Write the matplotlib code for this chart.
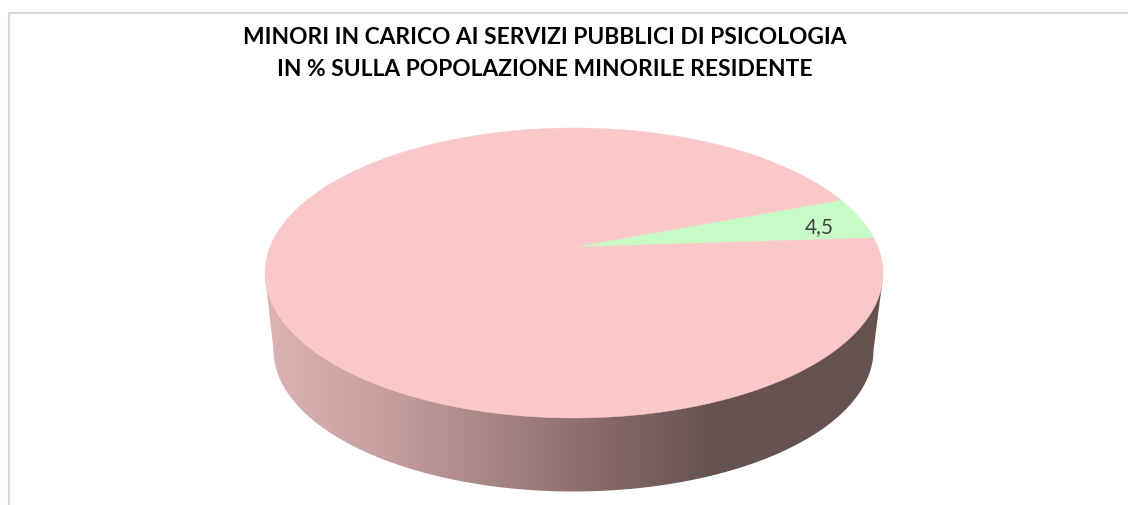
import matplotlib
matplotlib.use("Agg")
import matplotlib.pyplot as plt
import numpy as np
from matplotlib.colors import LinearSegmentedColormap
from matplotlib.patches import Polygon

title_lines = [
    "MINORI IN CARICO AI SERVIZI PUBBLICI DI PSICOLOGIA",
    "IN % SULLA POPOLAZIONE MINORILE RESIDENTE",
]
slice_labels = ["4,5", ""]
slice_values = [4.5, 95.5]
slice_colors = ["#C6FBC6", "#FBC8C9"]

W, H = 1128, 506

# disc geometry in pixels, the apex sits off centre because of the perspective
top_cx, top_cy, top_rx, top_ry = 574, 274, 309, 145
low_cx, low_cy, low_rx, low_ry = 573.5, 351, 300, 141.5
apex = (573, 248)
start_angle = 14.0


def arc(cx, cy, rx, ry, a0, a1, n=240):
    t = np.radians(np.linspace(a0, a1, n))
    return np.column_stack([cx + rx * np.cos(t), cy - ry * np.sin(t)])


fig = plt.figure(figsize=(W / 100, H / 100), dpi=100, facecolor="white")
ax = fig.add_axes([0, 0, 1, 1])
ax.set_xlim(0, W)
ax.set_ylim(H, 0)
ax.axis("off")

# chart frame, cut off by the screenshot on the right and at the bottom
ax.plot([8.5, 8.5, W], [H, 14, 14], color="#D9D9D9", lw=1.5, solid_joinstyle="miter")

# side wall: gradient clipped to the hull of top and bottom rims
side_cmap = LinearSegmentedColormap.from_list(
    "side",
    [
        (0.00, "#DDB2B2"),
        (0.22, "#C29C9C"),
        (0.50, "#8F7070"),
        (0.72, "#675251"),
        (1.00, "#655150"),
    ],
)
gradient = np.linspace(0, 1, 512).reshape(1, -1)
side = ax.imshow(
    gradient,
    cmap=side_cmap,
    extent=[265, 883, H, 0],
    aspect="auto",
    interpolation="bilinear",
    zorder=1,
)
ax.set_xlim(0, W)
ax.set_ylim(H, 0)
rim = np.vstack(
    [
        arc(top_cx, top_cy, top_rx, top_ry, 180, 185),
        arc(low_cx, low_cy, low_rx, low_ry, 180, 360),
        arc(top_cx, top_cy, top_rx, top_ry, 355, 360),
        [[top_cx, top_cy]],
    ]
)
clip = Polygon(rim, closed=True, transform=ax.transData, fc="none", ec="none")
ax.add_patch(clip)
side.set_clip_path(clip)

# top face, one polygon per slice, angles come from the values
total = sum(slice_values)
angle = start_angle
for label, value, color in zip(slice_labels, slice_values, slice_colors):
    span = value / total * 360
    pts = np.vstack([[apex], arc(top_cx, top_cy, top_rx, top_ry, angle, angle + span)])
    ax.add_patch(Polygon(pts, closed=True, fc=color, ec=color, lw=0.3, zorder=2))
    angle += span

ax.text(819, 227, slice_labels[0], fontsize=15, family="Lato", color="#404040",
        ha="center", va="center", zorder=3)

for y, line in zip([37, 69], title_lines):
    ax.text(545, y, line, fontsize=16.4, family="Lato", fontweight="bold",
            color="black", ha="center", va="center", zorder=3)

fig.savefig("out.png", dpi=100)
